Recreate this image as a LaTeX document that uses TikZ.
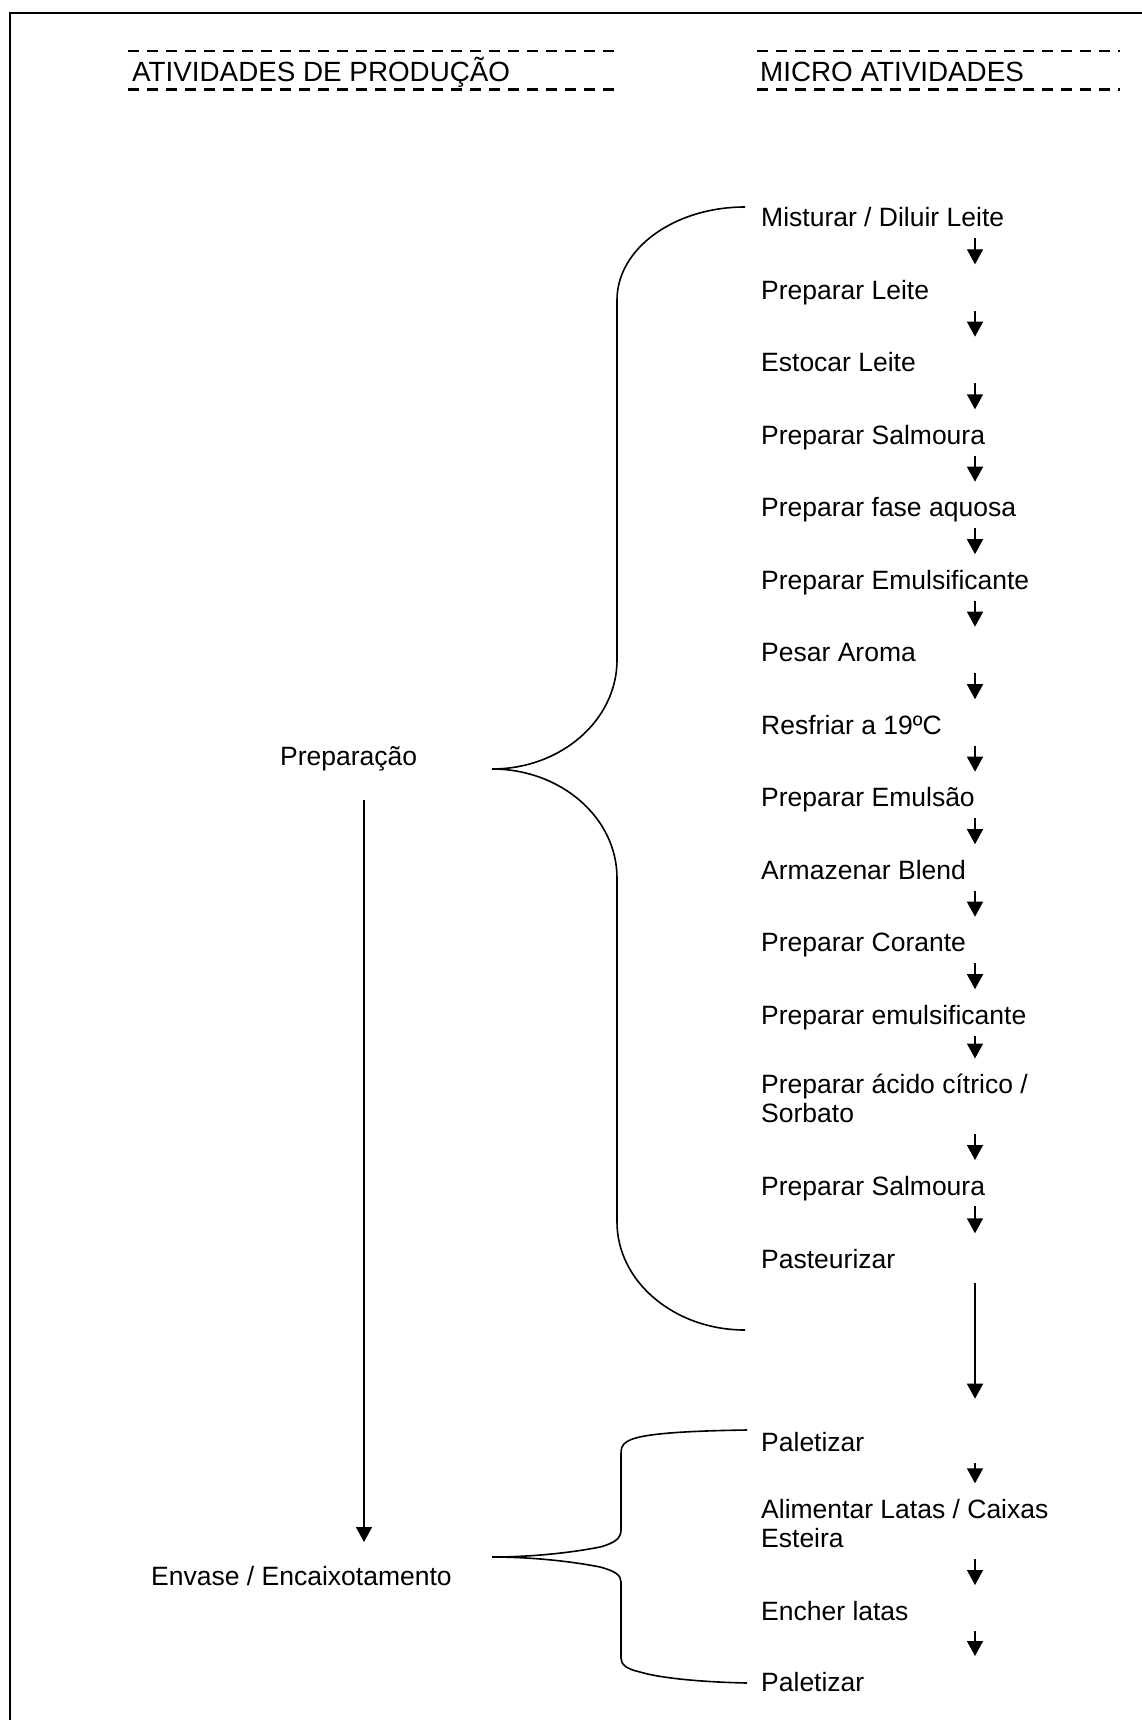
\documentclass[tikz,border=0pt]{standalone}
\usepackage{fontspec}
\setmainfont{Liberation Sans}
\usetikzlibrary{arrows.meta}
\begin{document}
\begin{tikzpicture}[x=1pt,y=-1pt,
  lbl/.style={inner sep=0pt, anchor=north west, text height=19pt, text depth=0pt,
              font=\fontsize{26.5}{29}\selectfont},
  lbltwo/.style={lbl, align=left, text height=48pt, text depth=0pt},
  head/.style={inner sep=0pt, anchor=north west, text height=20pt, text depth=0pt,
               font=\fontsize{27.8}{30}\selectfont},
  flow/.style={line width=1.4pt, -{Triangle[length=15pt,width=16pt]},
               shorten <=11pt, shorten >=16pt},
  brace/.style={line width=1.6pt},
  hdash/.style={line width=2.6pt, dash pattern=on 11pt off 8pt},
  frame/.style={line width=2.6pt}]
\useasboundingbox (0,0) rectangle (1141,1720);

% page frame (top and left edges)
\draw[frame] (10,1725) -- (10,13) -- (1145,13);

% column headings between dashed rules
\node[head] (h1) at (132,61.5) {ATIVIDADES DE PRODUÇÃO};
\node[head] (h2) at (760,61.5) {MICRO ATIVIDADES};
\draw[hdash] (128,51) -- (620,51);
\draw[hdash] (128,89.5) -- (620,89.5);
\draw[hdash] (757,51) -- (1120,51);
\draw[hdash] (757,89.5) -- (1120,89.5);

% production activities
\node[lbl] (prep) at (280,746) {Preparação};
\node[lbl] (env)  at (151,1566) {Envase / Encaixotamento};
\coordinate (lx) at (364,0);
\draw[flow, shorten <=35pt, shorten >=24pt] (prep.south -| lx) -- (env.north -| lx);

% micro activities
\node[lbl] (m1)  at (761,207.7)  {Misturar / Diluir Leite};
\node[lbl] (m2)  at (761,280.3)  {Preparar Leite};
\node[lbl] (m3)  at (761,352.7)  {Estocar Leite};
\node[lbl] (m4)  at (761,425.3)  {Preparar Salmoura};
\node[lbl] (m5)  at (761,497.7)  {Preparar fase aquosa};
\node[lbl] (m6)  at (761,570.2)  {Preparar Emulsificante};
\node[lbl] (m7)  at (761,642.7)  {Pesar Aroma};
\node[lbl] (m8)  at (761,715.2)  {Resfriar a 19ºC};
\node[lbl] (m9)  at (761,787.7)  {Preparar Emulsão};
\node[lbl] (m10) at (761,860.2)  {Armazenar Blend};
\node[lbl] (m11) at (761,932.7)  {Preparar Corante};
\node[lbl] (m12) at (761,1005.2) {Preparar emulsificante};
\node[lbltwo] (m13) at (761,1074.5) {Preparar ácido cítrico /\\Sorbato};
\node[lbl] (m14) at (761,1176)   {Preparar Salmoura};
\node[lbl] (m15) at (761,1249.3) {Pasteurizar};
\node[lbl] (m16) at (761,1432.7) {Paletizar};
\node[lbltwo] (m17) at (761,1499.3) {Alimentar Latas / Caixas\\Esteira};
\node[lbl] (m18) at (761,1601)   {Encher latas};
\node[lbl] (m19) at (761,1672)   {Paletizar};

\coordinate (ax) at (975,0);
\foreach \a/\b in {m1/m2,m2/m3,m3/m4,m4/m5,m5/m6,m6/m7,m7/m8,m8/m9,m9/m10,
                   m10/m11,m11/m12,m12/m13,m13/m14,m14/m15,m16/m17,m17/m18,m18/m19}
  \draw[flow] (\a.south -| ax) -- (\b.north -| ax);
\draw[flow, shorten <=14pt, shorten >=34pt] (m15.south -| ax) -- (m16.north -| ax);

% brace grouping the preparation steps
\coordinate (b1top) at (745,207);
\coordinate (b1tip) at (492,769);
\coordinate (b1bot) at (745,1330);
\draw[brace] (b1top) .. controls (674.3,207) and (617,248.6) .. (617,300)
  -- (617,660) .. controls (617,720.2) and (561,769) .. (b1tip)
  .. controls (561,769) and (617,817.8) .. (617,878)
  -- (617,1222) .. controls (617,1281.6) and (674.3,1330) .. (b1bot);

% brace grouping the filling and packing steps
\coordinate (b2top) at (747,1430);
\coordinate (b2tip) at (492,1557);
\coordinate (b2bot) at (747,1683);
\draw[brace] (b2top) .. controls (680,1431) and (640,1434) .. (628,1441)
  .. controls (621,1445) and (621,1449) .. (621,1455)
  -- (621,1530) .. controls (621,1538) and (615,1543) .. (600,1547)
  .. controls (570,1553) and (530,1557) .. (b2tip)
  .. controls (530,1557) and (570,1561) .. (600,1567)
  .. controls (615,1571) and (621,1575) .. (621,1582)
  -- (621,1658) .. controls (621,1665) and (627,1669) .. (640,1672)
  .. controls (660,1678) and (700,1682) .. (b2bot);
\end{tikzpicture}
\end{document}
